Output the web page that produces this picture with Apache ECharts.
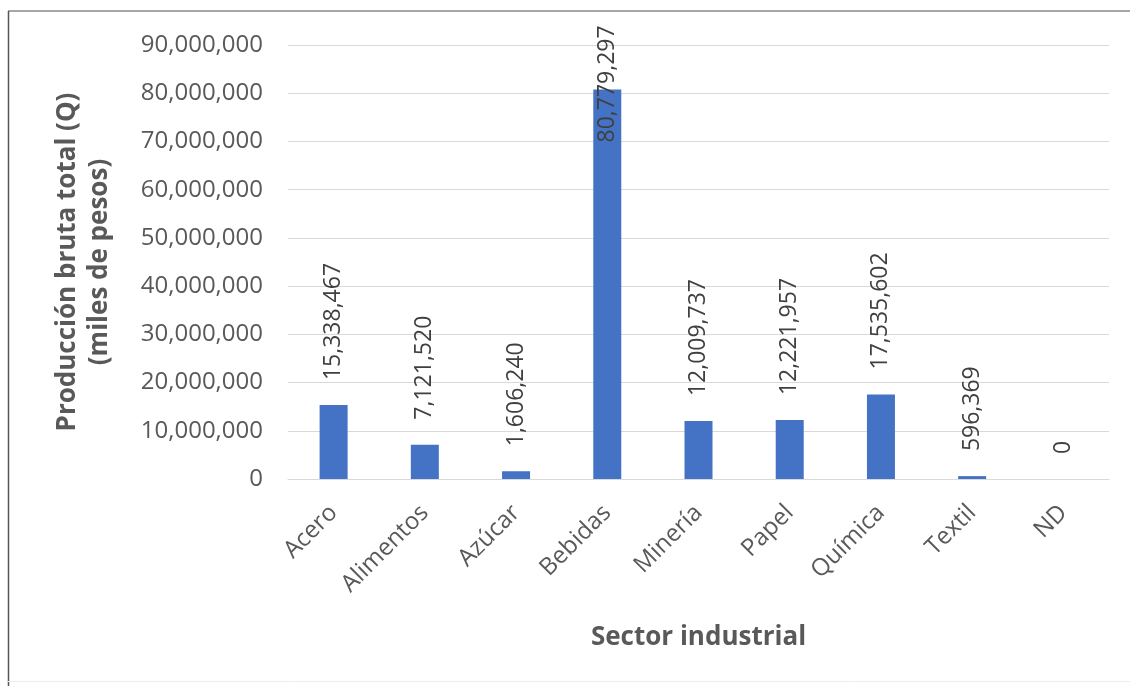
<!DOCTYPE html>
<html>
<head>
<meta charset="utf-8">
<title>Producción bruta total por sector industrial</title>
<script src="https://cdn.jsdelivr.net/npm/echarts@6/dist/echarts.min.js"></script>
<style>
  html, body { margin: 0; padding: 0; background: #ffffff; }
  #chart { width: 1130px; height: 686px; }
</style>
</head>
<body>
<div id="chart"></div>
<script>
// Sectores industriales y su producción bruta total (miles de pesos)
const sectores = ['Acero', 'Alimentos', 'Azúcar', 'Bebidas', 'Minería', 'Papel', 'Química', 'Textil', 'ND'];
const produccion = [15338467, 7121520, 1606240, 80779297, 12009737, 12221957, 17535602, 596369, 0];

// Escala del eje vertical
const yMin = 0;
const yMax = 90000000;
const yPaso = 10000000;

const tituloY = 'Producción bruta total (Q)\n(miles de pesos)';
const tituloX = 'Sector industrial';

const FONT = '"Open Sans", "Noto Sans", sans-serif';
const GRIS_TEXTO = '#595959';
const AZUL = '#4472C4';

const fmt = v => Number(v).toLocaleString('en-US');

// La barra más alta lleva la etiqueta sobre la propia barra
const datos = produccion.map(v => {
  const item = { value: v };
  if (v === Math.max(...produccion)) {
    item.label = { distance: -53 };
  }
  return item;
});

const chart = echarts.init(document.getElementById('chart'), null, { renderer: 'canvas' });

chart.setOption({
  backgroundColor: '#ffffff',
  animation: false,
  grid: { left: 288, right: 21, top: 45, bottom: 207, containLabel: false },
  xAxis: {
    type: 'category',
    data: sectores,
    axisLine: { show: true, lineStyle: { color: '#d9d9d9', width: 1 } },
    axisTick: { show: false },
    axisLabel: {
      rotate: 45,
      margin: 30,
      color: GRIS_TEXTO,
      fontFamily: FONT,
      fontSize: 24
    },
    name: tituloX,
    nameLocation: 'middle',
    nameGap: 146,
    nameTextStyle: { color: GRIS_TEXTO, fontFamily: FONT, fontSize: 26, fontWeight: 'bold' }
  },
  yAxis: {
    type: 'value',
    min: yMin,
    max: yMax,
    interval: yPaso,
    axisLine: { show: false },
    axisTick: { show: false },
    splitLine: { lineStyle: { color: '#d9d9d9', width: 1 } },
    axisLabel: {
      margin: 25,
      color: GRIS_TEXTO,
      fontFamily: FONT,
      fontSize: 24,
      formatter: v => fmt(v)
    },
    name: tituloY,
    nameLocation: 'middle',
    nameRotate: 90,
    nameGap: 172,
    nameTextStyle: { color: GRIS_TEXTO, fontFamily: FONT, fontSize: 26, fontWeight: 'bold', lineHeight: 32, align: 'center' }
  },
  series: [{
    type: 'bar',
    data: datos,
    barWidth: 28,
    itemStyle: { color: AZUL },
    label: {
      show: true,
      position: 'top',
      distance: 25,
      rotate: 90,
      align: 'left',
      verticalAlign: 'middle',
      color: '#404040',
      fontFamily: FONT,
      fontSize: 23,
      formatter: p => fmt(p.value)
    }
  }],
  graphic: [
    { type: 'line', shape: { x1: 8, y1: 11, x2: 1130, y2: 11 }, style: { stroke: '#8a8a8a', lineWidth: 1.5 } },
    { type: 'line', shape: { x1: 8.5, y1: 11, x2: 8.5, y2: 686 }, style: { stroke: '#555555', lineWidth: 1.5 } },
    { type: 'line', shape: { x1: 8, y1: 681.5, x2: 1130, y2: 681.5 }, style: { stroke: '#ececec', lineWidth: 1 } }
  ]
});
</script>
</body>
</html>
